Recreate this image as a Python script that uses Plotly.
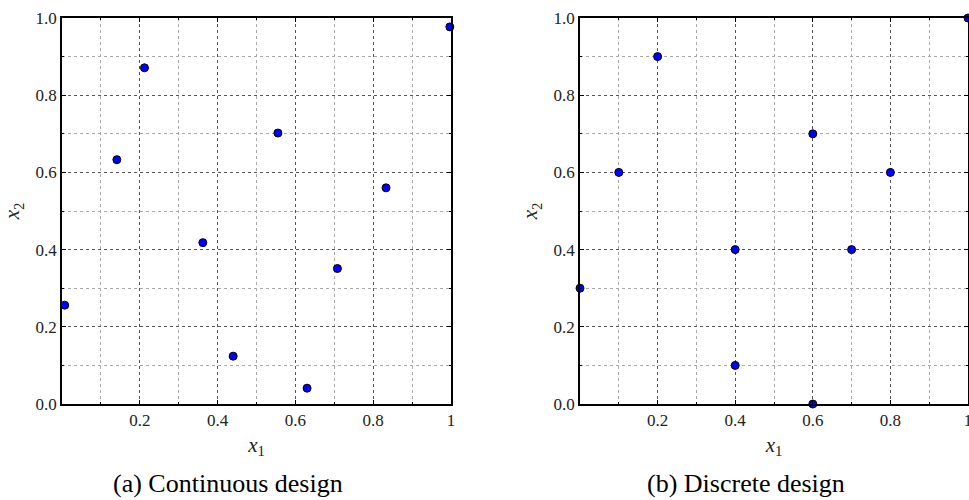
import plotly.graph_objects as go

cont_x1 = [0.007, 0.141, 0.212, 0.362, 0.440, 0.555, 0.630, 0.708, 0.833, 0.997]
cont_x2 = [0.256, 0.633, 0.871, 0.418, 0.124, 0.702, 0.041, 0.351, 0.560, 0.977]

disc_x1 = [0.0, 0.1, 0.2, 0.4, 0.4, 0.6, 0.6, 0.7, 0.8, 1.0]
disc_x2 = [0.3, 0.6, 0.9, 0.4, 0.1, 0.7, 0.0, 0.4, 0.6, 1.0]

x_tickvals = [0.2, 0.4, 0.6, 0.8, 1.0]
x_ticktext = ["0.2", "0.4", "0.6", "0.8", "1"]
y_tickvals = [0.0, 0.2, 0.4, 0.6, 0.8, 1.0]
y_ticktext = ["0.0", "0.2", "0.4", "0.6", "0.8", "1.0"]

captions = ["(a) Continuous design", "(b) Discrete design"]

FONT = "Liberation Serif, DejaVu Serif, serif"
marker = dict(color="#0000ff", size=8, line=dict(color="black", width=1))

fig = go.Figure()
fig.add_trace(go.Scatter(x=cont_x1, y=cont_x2, mode="markers", marker=marker,
                         xaxis="x", yaxis="y", cliponaxis=False, showlegend=False))
fig.add_trace(go.Scatter(x=disc_x1, y=disc_x2, mode="markers", marker=marker,
                         xaxis="x2", yaxis="y2", cliponaxis=False, showlegend=False))

ydom = [1 - 404 / 500, 1 - 18 / 500]
common_ax = dict(
    range=[0, 1], showline=True, linecolor="black", linewidth=1.5, mirror="ticks",
    ticks="inside", ticklen=4, tickcolor="black", automargin=False,
    showgrid=True, gridcolor="#555555", griddash="dot", gridwidth=1,
    minor=dict(dtick=0.1, tick0=0, showgrid=True, gridcolor="#aaaaaa", griddash="dot",
               gridwidth=1, ticks="inside", ticklen=2, tickcolor="black"),
    zeroline=False, tickfont=dict(family=FONT, size=17, color="#222"),
    ticklabeloverflow="allow",
)

xt = dict(text="<i>x</i><sub>1</sub>", font=dict(family=FONT, size=21, color="#222"), standoff=8)
yt = dict(text="<i>x</i><sub>2</sub>", font=dict(family=FONT, size=21, color="#222"), standoff=10)

fig.update_layout(
    width=969, height=500,
    margin=dict(l=0, r=0, t=0, b=0, autoexpand=False),
    plot_bgcolor="white", paper_bgcolor="white",
    xaxis=dict(domain=[62 / 969, 451 / 969], anchor="y", tickvals=x_tickvals, ticktext=x_ticktext,
               title=xt, **common_ax),
    yaxis=dict(domain=ydom, anchor="x", tickvals=y_tickvals, ticktext=y_ticktext,
               title=yt, **common_ax),
    xaxis2=dict(domain=[580 / 969, 968 / 969], anchor="y2", tickvals=x_tickvals, ticktext=x_ticktext,
                title=xt, **common_ax),
    yaxis2=dict(domain=ydom, anchor="x2", tickvals=y_tickvals, ticktext=y_ticktext,
                title=yt, **common_ax),
)

for cx, txt in zip([228 / 969, 746 / 969], captions):
    fig.add_annotation(x=cx, y=1 - 483 / 500, xref="paper", yref="paper", text=txt,
                       showarrow=False, font=dict(family=FONT, size=26, color="black"),
                       xanchor="center", yanchor="middle")

fig.write_html("out.html", config={"displayModeBar": False},
               post_script="document.body.style.margin='0';document.body.style.overflow='hidden';")
